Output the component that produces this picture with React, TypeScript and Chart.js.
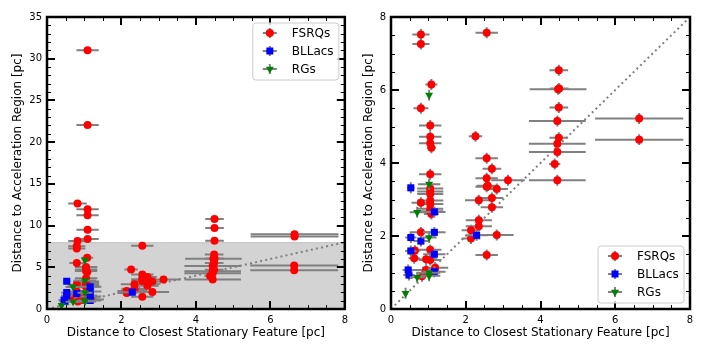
import React, { useEffect, useRef } from "react";
import { Chart, registerables } from "chart.js";

Chart.register(...registerables);

// ---------- data ----------
// FSRQs: x (pc), y (pc), x error, y error
const fsrqX = [
  1.09, 1.09, 0.82, 1.09, 1.09, 1.09, 1.09, 0.82, 4.5, 4.5, 4.5, 6.65, 6.65,
  0.8, 0.8, 2.56, 1.08, 0.8, 1.05, 1.05, 1.05, 1.08, 2.26, 2.56, 2.7, 1.05,
  2.56, 3.13, 2.59, 2.56, 2.83, 2.7, 2.35, 2.7, 2.35, 2.35, 2.14, 2.14, 2.83,
  2.56, 4.49, 4.47, 4.5, 4.49, 4.45, 4.49, 4.45, 4.45, 4.38, 4.45, 6.64, 6.64,
  1.05, 1.05, 1.05, 1.05, 1.05, 1.05, 1.05, 1.08, 0.8, 0.8, 1.05, 0.64, 0.62,
  0.94, 1.05, 1.18, 0.94, 0.83,
];
const fsrqY = [
  31.0, 22.05, 12.65, 11.95, 11.25, 9.5, 8.4, 8.15, 10.8, 9.7, 8.18, 8.95, 8.7,
  7.52, 7.26, 7.57, 6.15, 5.5, 5.03, 4.72, 4.54, 4.42, 4.73, 4.13, 3.84, 3.69,
  3.58, 3.53, 3.38, 3.35, 3.29, 3.04, 2.98, 2.79, 2.43, 2.27, 2.16, 1.93, 2.03,
  1.48, 6.54, 6.02, 6.04, 5.52, 5.15, 4.69, 4.53, 4.3, 3.97, 3.53, 5.22, 4.64,
  3.3, 3.22, 3.15, 2.97, 2.88, 2.75, 2.68, 2.6, 2.91, 2.1, 1.62, 1.6, 1.39,
  1.36, 1.34, 1.13, 1.07, 0.9,
];
const fsrqXErr = [
  0.3, 0.3, 0.25, 0.3, 0.3, 0.3, 0.3, 0.25, 0.25, 0.25, 0.25, 1.18, 1.18,
  0.23, 0.23, 0.3, 0.16, 0.2, 0.3, 0.3, 0.3, 0.12, 0.18, 0.3, 0.25, 0.3,
  0.3, 0.45, 0.3, 0.3, 0.3, 0.3, 0.37, 0.3, 0.35, 0.35, 0.25, 0.25, 0.45,
  0.3, 0.25, 0.76, 0.25, 0.25, 0.76, 0.25, 0.76, 0.76, 0.15, 0.76, 1.18, 1.18,
  0.35, 0.35, 0.35, 0.35, 0.35, 0.35, 0.35, 0.2, 0.25, 0.3, 0.3, 0.15, 0.15,
  0.3, 0.3, 0.35, 0.35, 0.2,
];

// BL Lacs
const bllX = [0.53, 0.53, 0.53, 0.8, 1.16, 1.16, 1.16, 0.46, 0.48, 1.16, 2.29];
const bllY = [3.32, 1.96, 1.59, 1.86, 2.66, 2.1, 1.5, 1.07, 0.93, 1.02, 2.02];
const bllXErr = [0.1, 0.15, 0.15, 0.2, 0.3, 0.3, 0.3, 0.15, 0.15, 0.3, 0.3];

// Radio galaxies
const rgX = [1.02, 1.02, 0.7, 1.02, 1.02, 1.02, 0.7, 0.39];
const rgY = [5.86, 3.42, 2.65, 1.96, 0.99, 0.91, 0.87, 0.43];
const rgXErr = [0.05, 0.3, 0.2, 0.2, 0.3, 0.3, 0.2, 0.05];

const Y_ERR = 0.15;

// one-to-one reference line
const diagX = [0, 8];
const diagY = [0, 8];

// shaded band in the left panel (y range)
const bandY = [0, 8];

const xTitle = "Distance to Closest Stationary Feature [pc]";
const yTitle = "Distance to Acceleration Region [pc]";
const seriesLabels = ["FSRQs", "BLLacs", "RGs"];

const FONT = "'DejaVu Sans', sans-serif";

const toPts = (xs: number[], ys: number[]) => xs.map((x, i) => ({ x, y: ys[i] }));

// ---------- plugins ----------
const bandPlugin = {
  id: "band",
  beforeDatasetsDraw(chart: any) {
    const o = chart.options.plugins.band;
    if (!o || !o.show) return;
    const { ctx, chartArea: a } = chart;
    const ys = chart.scales.y;
    const top = ys.getPixelForValue(bandY[1]);
    const bot = ys.getPixelForValue(bandY[0]);
    ctx.save();
    ctx.fillStyle = "#d3d3d3";
    ctx.fillRect(a.left, top, a.right - a.left, bot - top);
    ctx.strokeStyle = "#c4c4c4";
    ctx.lineWidth = 1;
    ctx.beginPath();
    ctx.moveTo(a.left, top + 0.5);
    ctx.lineTo(a.right, top + 0.5);
    ctx.stroke();
    ctx.restore();
  },
};

const errPlugin = {
  id: "errbars",
  beforeDatasetDraw(chart: any, args: any) {
    const ds = chart.data.datasets[args.index];
    if (!ds.xErr) return;
    const { ctx, chartArea: a } = chart;
    const xs = chart.scales.x;
    const ys = chart.scales.y;
    ctx.save();
    ctx.beginPath();
    ctx.rect(a.left, a.top, a.right - a.left, a.bottom - a.top);
    ctx.clip();
    ctx.strokeStyle = "#808080";
    ctx.lineWidth = 2;
    ds.data.forEach((p: any, i: number) => {
      const px = xs.getPixelForValue(p.x);
      const py = ys.getPixelForValue(p.y);
      const x0 = xs.getPixelForValue(p.x - ds.xErr[i]);
      const x1 = xs.getPixelForValue(p.x + ds.xErr[i]);
      const y0 = ys.getPixelForValue(p.y - ds.yErr);
      const y1 = ys.getPixelForValue(p.y + ds.yErr);
      ctx.beginPath();
      ctx.moveTo(x0, py);
      ctx.lineTo(x1, py);
      ctx.moveTo(px, y0);
      ctx.lineTo(px, y1);
      ctx.stroke();
    });
    ctx.restore();
  },
};

function drawMarker(ctx: CanvasRenderingContext2D, kind: string, x: number, y: number, color: string) {
  ctx.fillStyle = color;
  ctx.beginPath();
  if (kind === "circle") {
    ctx.arc(x, y, 4, 0, Math.PI * 2);
  } else if (kind === "rect") {
    ctx.rect(x - 3.5, y - 3.5, 7, 7);
  } else {
    const r = 4.6;
    ctx.moveTo(x, y + r);
    ctx.lineTo(x - r * 0.866, y - r * 0.5);
    ctx.lineTo(x + r * 0.866, y - r * 0.5);
    ctx.closePath();
  }
  ctx.fill();
}

const legendPlugin = {
  id: "boxlegend",
  afterDraw(chart: any) {
    const o = chart.options.plugins.boxlegend;
    const { ctx, chartArea: a } = chart;
    const w = 86;
    const h = 57;
    const left = a.right - 6 - w;
    const top = o.corner === "top" ? a.top + 6 : a.bottom - 6 - h;
    ctx.save();
    ctx.fillStyle = "rgba(255,255,255,0.8)";
    ctx.strokeStyle = "#cccccc";
    ctx.lineWidth = 1;
    ctx.beginPath();
    const r = 3;
    ctx.moveTo(left + r, top);
    ctx.arcTo(left + w, top, left + w, top + h, r);
    ctx.arcTo(left + w, top + h, left, top + h, r);
    ctx.arcTo(left, top + h, left, top, r);
    ctx.arcTo(left, top, left + w, top, r);
    ctx.closePath();
    ctx.fill();
    ctx.stroke();
    const kinds = ["circle", "rect", "tri"];
    const colors = ["#ff0000", "#0000ff", "#008000"];
    seriesLabels.forEach((lab, i) => {
      const cy = top + 10 + i * 18;
      const mx = left + 17;
      ctx.strokeStyle = "#808080";
      ctx.lineWidth = 2;
      ctx.beginPath();
      ctx.moveTo(mx - 7, cy);
      ctx.lineTo(mx + 7, cy);
      ctx.moveTo(mx, cy - 5);
      ctx.lineTo(mx, cy + 5);
      ctx.stroke();
      drawMarker(ctx, kinds[i], mx, cy, colors[i]);
      ctx.fillStyle = "#000";
      ctx.font = `12px ${FONT}`;
      ctx.textBaseline = "middle";
      ctx.textAlign = "left";
      ctx.fillText(lab, left + 39, cy + 1);
    });
    ctx.restore();
  },
};

const framePlugin = {
  id: "frame",
  afterDatasetsDraw(chart: any) {
    const o = chart.options.plugins.frame;
    const { ctx, chartArea: a } = chart;
    const xs = chart.scales.x;
    const ys = chart.scales.y;
    ctx.save();
    ctx.strokeStyle = "#000";
    const seg = (x0: number, y0: number, x1: number, y1: number) => {
      ctx.beginPath();
      ctx.moveTo(x0, y0);
      ctx.lineTo(x1, y1);
      ctx.stroke();
    };
    const near = (v: number, step: number) => Math.abs(v / step - Math.round(v / step)) < 1e-6;
    // minor
    ctx.lineWidth = 1;
    for (let v = xs.min; v <= xs.max + 1e-9; v += o.xMinor) {
      if (near(v, o.xMajor)) continue;
      const p = Math.round(xs.getPixelForValue(v)) + 0.5;
      seg(p, a.bottom, p, a.bottom - 4);
      seg(p, a.top, p, a.top + 4);
    }
    for (let v = ys.min; v <= ys.max + 1e-9; v += o.yMinor) {
      if (near(v, o.yMajor)) continue;
      const p = Math.round(ys.getPixelForValue(v)) + 0.5;
      seg(a.left, p, a.left + 4, p);
      seg(a.right, p, a.right - 4, p);
    }
    // major
    ctx.lineWidth = 2;
    for (let v = xs.min; v <= xs.max + 1e-9; v += o.xMajor) {
      const p = Math.round(xs.getPixelForValue(v));
      seg(p, a.bottom, p, a.bottom - 8);
      seg(p, a.top, p, a.top + 8);
    }
    for (let v = ys.min; v <= ys.max + 1e-9; v += o.yMajor) {
      const p = Math.round(ys.getPixelForValue(v));
      seg(a.left, p, a.left + 8, p);
      seg(a.right, p, a.right - 8, p);
    }
    ctx.lineWidth = 2.5;
    ctx.strokeRect(a.left, a.top, a.right - a.left, a.bottom - a.top);
    ctx.restore();
  },
};

type PanelOpts = {
  yMax: number;
  yMajor: number;
  yMinor: number;
  yAxisWidth: number;
  yTitlePad: number;
  padRight: number;
  legendCorner: string;
  band: boolean;
};

function makeConfig(p: PanelOpts): any {
  return {
    type: "scatter",
    data: {
      datasets: [
        {
          label: seriesLabels[0],
          data: toPts(fsrqX, fsrqY),
          xErr: fsrqXErr,
          yErr: Y_ERR,
          backgroundColor: "#ff0000",
          borderWidth: 0,
          pointStyle: "circle",
          pointRadius: 4,
          order: 3,
          clip: 0,
        },
        {
          label: seriesLabels[1],
          data: toPts(bllX, bllY),
          xErr: bllXErr,
          yErr: Y_ERR,
          backgroundColor: "#0000ff",
          borderWidth: 0,
          pointStyle: "rect",
          pointRadius: 5,
          order: 2,
          clip: 0,
        },
        {
          label: seriesLabels[2],
          data: toPts(rgX, rgY),
          xErr: rgXErr,
          yErr: Y_ERR,
          backgroundColor: "#008000",
          borderWidth: 0,
          pointStyle: "triangle",
          rotation: 180,
          pointRadius: 4.6,
          order: 1,
          clip: 0,
        },
        {
          label: "1:1",
          data: toPts(diagX, diagY),
          showLine: true,
          borderColor: "#808080",
          borderWidth: 2,
          borderDash: [2, 3.2],
          pointRadius: 0,
          order: 4,
        },
      ],
    },
    options: {
      animation: false,
      responsive: false,
      events: [],
      layout: { padding: { left: 0, right: p.padRight, top: 17, bottom: 0 } },
      plugins: {
        legend: { display: false },
        tooltip: { enabled: false },
        band: { show: p.band },
        boxlegend: { corner: p.legendCorner },
        frame: { xMajor: 2, xMinor: 0.5, yMajor: p.yMajor, yMinor: p.yMinor },
      },
      scales: {
        x: {
          type: "linear",
          min: 0,
          max: 8,
          grid: { display: false, drawTicks: false },
          border: { display: false },
          ticks: { stepSize: 2, color: "#000", font: { family: FONT, size: 10 }, padding: 5, maxRotation: 0 },
          title: {
            display: true,
            text: xTitle,
            color: "#000",
            font: { family: FONT, size: 12 },
            padding: { top: 0, bottom: 13 },
          },
          afterFit: (s: any) => {
            s.height = 44;
          },
        },
        y: {
          type: "linear",
          min: 0,
          max: p.yMax,
          grid: { display: false, drawTicks: false },
          border: { display: false },
          ticks: { stepSize: p.yMajor, color: "#000", font: { family: FONT, size: 10 }, padding: 5 },
          title: {
            display: true,
            text: yTitle,
            color: "#000",
            font: { family: FONT, size: 12 },
            padding: { top: p.yTitlePad, bottom: 0 },
          },
          afterFit: (s: any) => {
            s.width = p.yAxisWidth;
          },
        },
      },
    },
    plugins: [bandPlugin, errPlugin, framePlugin, legendPlugin],
  };
}

function Panel({ opts, left }: { opts: PanelOpts; left: number }) {
  const ref = useRef<HTMLCanvasElement | null>(null);
  useEffect(() => {
    if (!ref.current) return;
    const chart = new Chart(ref.current, makeConfig(opts));
    return () => chart.destroy();
  }, []);
  return (
    <canvas
      ref={ref}
      width={353}
      height={353}
      style={{ position: "absolute", left, top: 0, width: 353, height: 353 }}
    />
  );
}

export default function App() {
  return (
    <div style={{ position: "absolute", left: 0, top: 0, width: 706, height: 353, background: "#fff" }}>
      <Panel
        left={0}
        opts={{
          yMax: 35,
          yMajor: 5,
          yMinor: 1,
          yAxisWidth: 47,
          yTitlePad: 11,
          padRight: 7,
          legendCorner: "top",
          band: true,
        }}
      />
      <Panel
        left={353}
        opts={{
          yMax: 8,
          yMajor: 2,
          yMinor: 0.5,
          yAxisWidth: 38,
          yTitlePad: 9,
          padRight: 16,
          legendCorner: "bottom",
          band: false,
        }}
      />
    </div>
  );
}
